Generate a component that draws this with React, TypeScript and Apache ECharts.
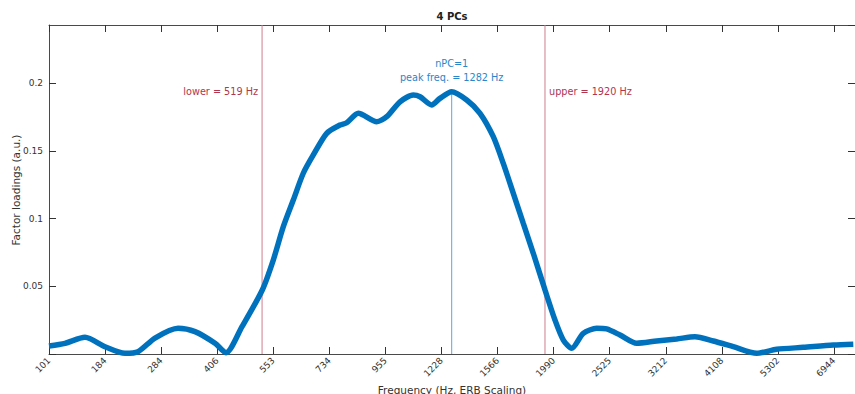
import React, { useEffect, useRef } from "react";
import * as echarts from "echarts";

// x positions are in tick-index units of the ERB-scaled frequency axis
const tickLabels = ["101", "184", "284", "406", "553", "734", "955", "1228", "1566", "1990", "2525", "3212", "4108", "5302", "6944"];
const yTicks = [0.05, 0.1, 0.15, 0.2];

const curveX = [
  0.0, 0.285, 0.642, 0.999, 1.355, 1.587, 1.89, 2.301, 2.604, 2.961, 3.157, 3.442,
  3.804, 4.0, 4.179, 4.357, 4.535, 4.714, 4.953, 5.19, 5.309, 5.516, 5.845, 6.023,
  6.26, 6.497, 6.617, 6.825, 6.973, 7.182, 7.45, 7.687, 7.924, 8.102, 8.281, 8.459,
  8.637, 8.846, 9.024, 9.173, 9.322, 9.529, 9.768, 9.946, 10.184, 10.481, 10.838,
  11.195, 11.521, 11.848, 12.204, 12.622, 12.978, 13.453, 13.988, 14.345,
];
const curveY = [
  0.0059, 0.0079, 0.0123, 0.0054, 0.0005, 0.0017, 0.0118, 0.019, 0.0165, 0.0079, 0.001, 0.0202,
  0.0473, 0.0694, 0.094, 0.1137, 0.1335, 0.147, 0.163, 0.1691, 0.1708, 0.1778, 0.1716, 0.1753,
  0.1863, 0.1913, 0.19, 0.1839, 0.1888, 0.1937, 0.1876, 0.1778, 0.1605, 0.1408, 0.1187, 0.0965,
  0.0744, 0.0473, 0.0251, 0.0103, 0.0042, 0.0153, 0.019, 0.0185, 0.014, 0.0079, 0.0096,
  0.0111, 0.0128, 0.0096, 0.0054, 0.0005, 0.0035, 0.0049, 0.0066, 0.0072,
];

const lowerPos = 3.8;
const lowerHz = 519;
const upperPos = 8.846;
const upperHz = 1920;
const peakPos = 7.182;
const peakValue = 0.1937;
const peakHz = 1282;
const nPC = 1;
const labelLevel = 0.1942;
const peakLabelLevel = 0.2095;

const W = 855;
const H = 394;
const GL = 49;
const GT = 25;
const GB = 40;
const XMAX = 14.375;
const YMAX = 0.243;

const BLUE = "#0072BD";
const AXIS = "#333";
const FONT = "DejaVu Sans";

const mkTick = () => ({ show: true, inside: true, length: 7, lineStyle: { color: AXIS, width: 1 } });
const mkLine = () => ({ show: true, onZero: false, lineStyle: { color: "#4a4a4a", width: 1 } });

export default function App() {
  const ref = useRef<HTMLDivElement>(null);
  useEffect(() => {
    if (!ref.current) return;
    const chart = echarts.init(ref.current, undefined, { renderer: "svg" });
    const data = curveX.map((x, i) => [x, curveY[i]]);
    const vline = (pos: number, top: number, color: string) => ({
      type: "line",
      data: [
        [pos, 0],
        [pos, top],
      ],
      showSymbol: false,
      silent: true,
      lineStyle: { color, width: 1 },
      itemStyle: { color },
      z: 2,
    });
    chart.setOption({
      animation: false,
      textStyle: { fontFamily: FONT },
      grid: { left: GL, top: GT, right: 0, bottom: GB, containLabel: false },
      xAxis: [
        {
          type: "value",
          min: 0,
          max: XMAX,
          interval: 1,
          position: "bottom",
          axisLine: mkLine(),
          axisTick: mkTick(),
          splitLine: { show: false },
          axisLabel: {
            rotate: 45,
            fontSize: 9,
            color: "#333",
            fontFamily: FONT,
            margin: 5,
            showMaxLabel: false,
            formatter: (v: number) => {
              const i = Math.round(v);
              return Math.abs(v - i) < 1e-6 && tickLabels[i] ? tickLabels[i] : "";
            },
          },
        },
        {
          type: "value",
          min: 0,
          max: XMAX,
          interval: 1,
          position: "top",
          axisLine: mkLine(),
          axisTick: mkTick(),
          splitLine: { show: false },
          axisLabel: { show: false },
        },
      ],
      yAxis: [
        {
          type: "value",
          min: 0,
          max: YMAX,
          interval: 0.05,
          position: "left",
          axisLine: mkLine(),
          axisTick: mkTick(),
          splitLine: { show: false },
          axisLabel: {
            fontSize: 9,
            color: "#333",
            fontFamily: FONT,
            margin: 6,
            showMaxLabel: false,
            formatter: (v: number) => {
              const t = yTicks.find((k) => Math.abs(k - v) < 1e-9);
              return t !== undefined ? String(t) : "";
            },
          },
        },
        {
          type: "value",
          min: 0,
          max: YMAX,
          interval: 0.05,
          position: "right",
          axisLine: mkLine(),
          axisTick: mkTick(),
          splitLine: { show: false },
          axisLabel: { show: false },
        },
      ],
      series: [
        vline(lowerPos, YMAX, "#cf7d8c"),
        vline(upperPos, YMAX, "#cf7d8c"),
        vline(peakPos, peakValue, "#5aa6dc"),
        {
          type: "line",
          data,
          smooth: 0.25,
          showSymbol: false,
          lineStyle: { color: BLUE, width: 5.5 },
          itemStyle: { color: BLUE },
          z: 3,
          markPoint: {
            silent: true,
            symbol: "circle",
            symbolSize: 0,
            animation: false,
            data: [
              {
                coord: [lowerPos, labelLevel],
                label: {
                  show: true,
                  formatter: `lower = ${lowerHz} Hz`,
                  position: "left",
                  distance: 4,
                  color: "#b0354f",
                  fontSize: 9.7,
                  fontFamily: FONT,
                },
              },
              {
                coord: [upperPos, labelLevel],
                label: {
                  show: true,
                  formatter: `upper = ${upperHz} Hz`,
                  position: "right",
                  distance: 4,
                  color: "#b0354f",
                  fontSize: 9.7,
                  fontFamily: FONT,
                },
              },
              {
                coord: [peakPos, peakLabelLevel],
                label: {
                  show: true,
                  formatter: `nPC=${nPC}\npeak freq. = ${peakHz} Hz`,
                  position: "inside",
                  align: "center",
                  verticalAlign: "middle",
                  lineHeight: 13.5,
                  color: "#2b86c9",
                  fontSize: 9.7,
                  fontFamily: FONT,
                },
              },
            ],
          },
        },
      ],
      graphic: [
        {
          type: "text",
          x: 452,
          y: 16,
          style: {
            text: "4 PCs",
            align: "center",
            verticalAlign: "middle",
            fontSize: 10,
            fontWeight: "bold",
            fontFamily: FONT,
            fill: "#222",
          },
        },
        {
          type: "text",
          x: 452,
          y: 390,
          style: {
            text: "Frequency (Hz, ERB Scaling)",
            align: "center",
            verticalAlign: "middle",
            fontSize: 10.5,
            fontFamily: FONT,
            fill: "#333",
          },
        },
        {
          type: "text",
          x: 16,
          y: 190,
          rotation: Math.PI / 2,
          style: {
            text: "Factor loadings (a.u.)",
            align: "center",
            verticalAlign: "middle",
            fontSize: 10.5,
            fontFamily: FONT,
            fill: "#333",
          },
        },
      ],
    });
    return () => chart.dispose();
  }, []);
  return (
    <div style={{ position: "absolute", left: 0, top: 0, width: W, height: H, overflow: "hidden", background: "#fff" }}>
      <div ref={ref} style={{ width: W, height: H }} />
    </div>
  );
}
